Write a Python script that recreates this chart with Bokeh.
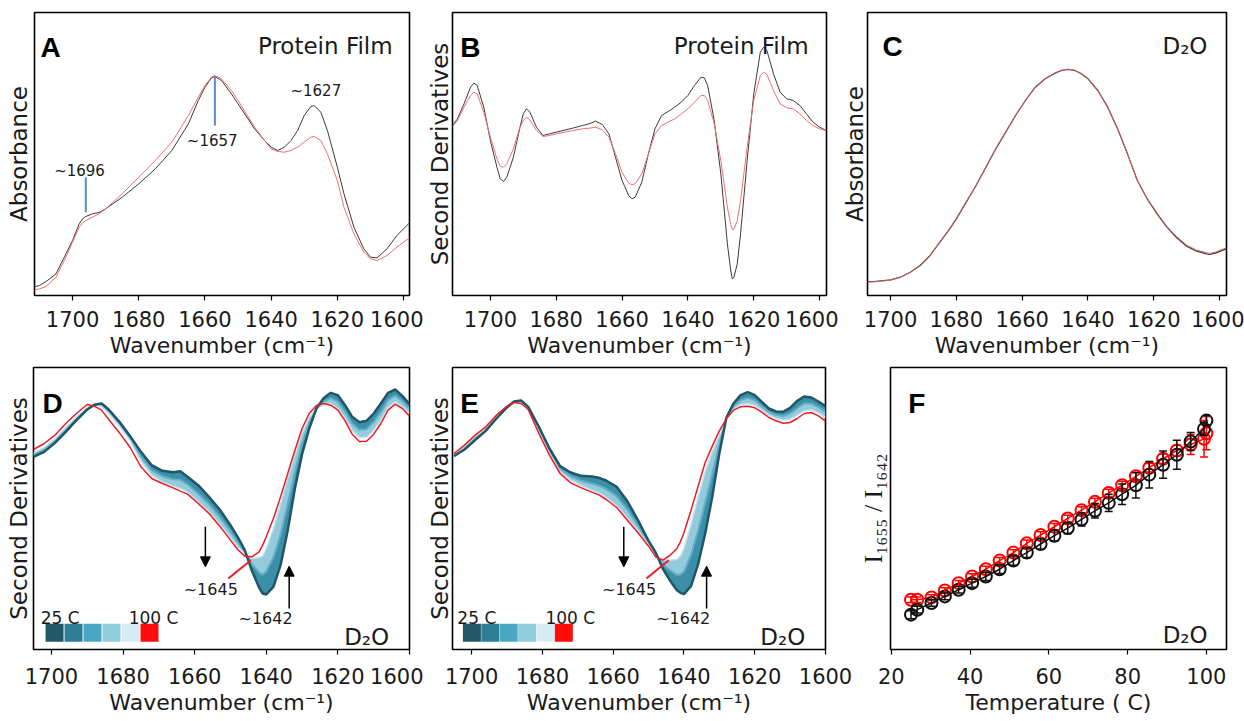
from bokeh.plotting import figure
from bokeh.layouts import row, column
from bokeh.models import (Range1d, FixedTicker, Label, Whisker, TeeHead,
                          Arrow, NormalHead, ColumnDataSource)
from bokeh.embed import file_html
from bokeh.resources import INLINE

SANS = "DejaVu Sans"
BOLD = "Liberation Sans"
SERIF = "'Liberation Serif', 'DejaVu Serif', serif"
INK = "#1a1a1a"

# ---------------- data ----------------
WN_TICKS = [1600, 1620, 1640, 1660, 1680, 1700]
T_TICKS = [20, 40, 60, 80, 100]

# Panel A : absorbance, protein film (a.u.)
wn_a = [1712, 1710, 1708, 1705, 1702, 1700, 1698, 1697, 1696, 1694, 1692, 1690, 1685, 1680, 1675,
        1670, 1665, 1662, 1660, 1658, 1657, 1655, 1652, 1650, 1645, 1642, 1640, 1638, 1636, 1634,
        1632, 1630, 1628, 1627, 1625, 1623, 1620, 1618, 1615, 1612, 1610, 1608, 1605, 1602, 1598]
abs_a_black = [0.025, 0.030, 0.042, 0.065, 0.125, 0.165, 0.215, 0.230, 0.237, 0.245, 0.249, 0.260, 0.295, 0.335, 0.380,
               0.435, 0.515, 0.585, 0.625, 0.653, 0.657, 0.645, 0.605, 0.575, 0.500, 0.465, 0.445, 0.435, 0.445, 0.465,
               0.495, 0.540, 0.567, 0.570, 0.550, 0.495, 0.385, 0.305, 0.205, 0.140, 0.115, 0.113, 0.140, 0.180, 0.220]
abs_a_red = [0.015, 0.020, 0.027, 0.055, 0.115, 0.160, 0.205, 0.218, 0.225, 0.235, 0.245, 0.260, 0.305, 0.355, 0.405,
             0.460, 0.540, 0.595, 0.630, 0.655, 0.660, 0.650, 0.615, 0.585, 0.505, 0.465, 0.440, 0.432, 0.430, 0.435,
             0.445, 0.460, 0.475, 0.477, 0.465, 0.425, 0.345, 0.265, 0.185, 0.130, 0.110, 0.105, 0.120, 0.145, 0.175]
marks_a = [1696, 1657]
marks_a_low = [0.250, 0.510]
marks_a_high = [0.355, 0.657]

# Panel B : negative second derivative, protein film (a.u.)
wn_b = [1711.5, 1710, 1708, 1706, 1705, 1704, 1702, 1700, 1698, 1697, 1696, 1695, 1693, 1691, 1690,
        1689, 1688, 1686, 1684, 1682, 1680, 1675, 1672, 1670, 1668, 1666, 1664, 1662, 1660, 1658,
        1657, 1656, 1654, 1652, 1650, 1648, 1646, 1644, 1642, 1640, 1638, 1636, 1635, 1634, 1632,
        1630, 1628, 1627, 1626.5, 1626, 1625, 1624, 1622, 1620, 1618, 1617, 1616, 1614, 1612, 1610,
        1608, 1606, 1604, 1602, 1600, 1598]
nd2_b_black = [375, 355, 310, 260, 248, 255, 320, 420, 500, 535, 543, 530, 470, 380, 340,
               325, 335, 380, 405, 400, 395, 383, 375, 370, 362, 372, 400, 470, 540, 585,
               595, 590, 545, 460, 385, 345, 333, 320, 305, 285, 255, 230, 232, 255, 360,
               520, 730, 810, 835, 830, 790, 700, 480, 280, 155, 140, 150, 220, 275, 295,
               300, 315, 340, 365, 380, 390]
nd2_b_red = [378, 360, 320, 285, 275, 280, 335, 410, 475, 498, 500, 490, 445, 380, 360,
             350, 358, 390, 408, 405, 400, 390, 385, 383, 380, 388, 410, 460, 515, 548,
             553, 550, 520, 460, 400, 375, 365, 355, 340, 325, 305, 285, 285, 300, 370,
             480, 620, 672, 688, 686, 660, 600, 440, 300, 225, 215, 222, 270, 310, 322,
             325, 340, 360, 375, 385, 390]

# Panel C : absorbance in D2O (a.u.)
wn_c = [1707, 1705, 1700, 1697, 1694, 1691, 1688, 1685, 1682, 1680, 1677, 1674, 1671, 1668, 1665,
        1662, 1659, 1656, 1653, 1650, 1648, 1646, 1644, 1642, 1640, 1637, 1634, 1631, 1628, 1625,
        1622, 1619, 1616, 1613, 1610, 1607, 1604, 1603, 1601, 1598]
abs_c_black = [0.042, 0.042, 0.047, 0.055, 0.070, 0.090, 0.120, 0.160, 0.200, 0.230, 0.280, 0.330, 0.385, 0.440, 0.490,
               0.540, 0.585, 0.625, 0.650, 0.667, 0.675, 0.678, 0.675, 0.665, 0.650, 0.615, 0.565, 0.500, 0.425, 0.345,
               0.290, 0.245, 0.205, 0.173, 0.148, 0.133, 0.125, 0.123, 0.128, 0.140]
abs_c_red = [0.040, 0.041, 0.046, 0.055, 0.070, 0.091, 0.121, 0.161, 0.201, 0.231, 0.281, 0.331, 0.386, 0.441, 0.491,
             0.541, 0.586, 0.626, 0.651, 0.668, 0.676, 0.679, 0.676, 0.666, 0.651, 0.616, 0.566, 0.501, 0.426, 0.346,
             0.291, 0.247, 0.207, 0.176, 0.151, 0.136, 0.128, 0.126, 0.131, 0.143]

# Panels D / E : negative second derivatives vs temperature (a.u.)
wn_de = [1705, 1702, 1699, 1696, 1693, 1690, 1688, 1686, 1684, 1681, 1678, 1675, 1672, 1669, 1666,
         1664, 1662, 1659, 1656, 1653, 1650, 1648, 1646, 1644, 1642, 1641, 1640, 1638, 1636, 1634,
         1632, 1630, 1628, 1626, 1624, 1622, 1620, 1618, 1616, 1614, 1612, 1610, 1608, 1606, 1604,
         1602, 1600]
d_25 = [290, 275, 248, 215, 180, 148, 134, 130, 148, 185, 228, 275, 315, 332, 336,
        333, 350, 375, 410, 448, 495, 530, 570, 632, 682, 700, 703, 680, 615, 510,
        385, 282, 205, 145, 114, 98, 105, 135, 170, 186, 182, 160, 130, 98, 88,
        107, 132]
d_60 = [284, 268, 242, 208, 175, 145, 134, 134, 154, 191, 235, 289, 330, 348, 357,
        359, 372, 400, 432, 470, 513, 545, 575, 613, 637, 644, 634, 592, 523, 432,
        335, 250, 188, 145, 124, 114, 125, 155, 190, 209, 207, 185, 155, 120, 106,
        123, 146]
d_95 = [278, 262, 236, 202, 170, 142, 134, 138, 160, 198, 242, 303, 345, 365, 378,
        385, 395, 425, 455, 492, 532, 560, 580, 595, 592, 588, 565, 505, 432, 355,
        285, 218, 172, 146, 134, 130, 145, 175, 210, 232, 232, 210, 180, 142, 125,
        140, 160]
d_100 = [268, 250, 225, 190, 160, 133, 138, 150, 178, 218, 262, 320, 355, 370, 383,
         393, 402, 430, 460, 498, 540, 568, 588, 590, 575, 555, 530, 475, 410, 340,
         270, 205, 160, 136, 130, 135, 150, 182, 222, 244, 243, 222, 190, 150, 132,
         145, 168]
e_25 = [288, 268, 240, 212, 175, 142, 124, 121, 140, 200, 265, 318, 337, 347, 349,
        353, 361, 380, 423, 480, 542, 577, 625, 660, 690, 698, 702, 678, 612, 520,
        410, 280, 172, 130, 105, 96, 105, 125, 145, 154, 155, 143, 122, 109, 112,
        124, 138]
e_60 = [285, 264, 234, 209, 172, 140, 125, 124, 142, 206, 272, 326, 348, 362, 370,
        376, 386, 408, 448, 496, 547, 580, 612, 630, 644, 643, 634, 585, 512, 428,
        342, 252, 175, 138, 120, 113, 120, 138, 155, 164, 168, 160, 144, 130, 130,
        141, 155]
e_95 = [282, 260, 228, 206, 170, 137, 126, 126, 145, 212, 278, 335, 360, 376, 390,
        398, 412, 436, 474, 512, 552, 583, 598, 600, 598, 588, 565, 492, 412, 335,
        275, 225, 178, 147, 134, 130, 136, 150, 165, 175, 180, 177, 165, 152, 149,
        158, 172]
e_100 = [280, 255, 225, 200, 165, 138, 127, 130, 148, 220, 285, 340, 368, 383, 396,
         404, 418, 442, 480, 518, 558, 590, 600, 586, 565, 545, 518, 450, 378, 307,
         258, 212, 175, 150, 140, 138, 143, 156, 172, 182, 189, 187, 175, 160, 157,
         167, 183]
legend_colors = ["#235868", "#2f7e97", "#48a7c2", "#91ccdd", "#d6ecf3", "#ff0d0d"]

# Panel F : I1655 / I1642 ratio vs temperature
temp_f = [25, 26.6, 30.2, 33.6, 37.1, 40.5, 44.0, 47.5, 51.0, 54.4, 57.9, 61.4,
          64.8, 68.3, 71.7, 75.2, 78.6, 82.1, 85.5, 89.0, 92.5, 96.0, 99.4, 100.0]
ratio_black = [0.705, 0.720, 0.740, 0.760, 0.780, 0.800, 0.820, 0.842, 0.868, 0.892, 0.918, 0.943,
               0.966, 0.992, 1.018, 1.042, 1.068, 1.095, 1.127, 1.157, 1.187, 1.227, 1.265, 1.290]
err_black = [0.012, 0.010, 0.010, 0.010, 0.010, 0.012, 0.012, 0.013, 0.014, 0.015, 0.016, 0.017,
             0.017, 0.020, 0.022, 0.026, 0.031, 0.038, 0.040, 0.041, 0.044, 0.027, 0.020, 0.015]
ratio_red = [0.750, 0.750, 0.757, 0.778, 0.800, 0.820, 0.842, 0.868, 0.892, 0.920, 0.945, 0.970,
             0.995, 1.020, 1.045, 1.072, 1.095, 1.122, 1.148, 1.175, 1.200, 1.218, 1.235, 1.252]
err_red = [0.008, 0.008, 0.008, 0.008, 0.008, 0.008, 0.009, 0.009, 0.009, 0.010, 0.010, 0.010,
           0.010, 0.010, 0.011, 0.011, 0.012, 0.012, 0.013, 0.014, 0.016, 0.030, 0.055, 0.050]

XLAB = "Wavenumber (cm\u207b\u00b9)"
D2O = "D\u2082O"


# ---------------- helpers ----------------
def make_fig(w, h, left, right, top, bottom, xr, yr, xticks, xlabel, ylabel,
             yfont=SANS, ysize="23px", ystand=2, tick_stand=10, lab_stand=3):
    p = figure(width=w, height=h, x_range=xr, y_range=yr, output_backend="svg",
               toolbar_location=None, min_border_left=left, min_border_right=right,
               min_border_top=top, min_border_bottom=bottom)
    p.grid.visible = False
    p.background_fill_color = "white"
    p.border_fill_color = "white"
    p.outline_line_color = "black"
    p.outline_line_width = 1.6
    xa = p.xaxis[0]
    xa.ticker = FixedTicker(ticks=xticks)
    xa.axis_line_color = None
    xa.major_tick_line_color = "black"
    xa.major_tick_line_width = 1.2
    xa.major_tick_out = 5
    xa.major_tick_in = 0
    xa.minor_tick_line_color = None
    xa.major_label_text_font = SANS
    xa.major_label_text_font_size = "21px"
    xa.major_label_text_color = INK
    xa.major_label_standoff = tick_stand
    xa.axis_label = xlabel
    xa.axis_label_text_font = SANS
    xa.axis_label_text_font_size = "22px"
    xa.axis_label_text_font_style = "normal"
    xa.axis_label_text_color = INK
    xa.axis_label_standoff = lab_stand
    ya = p.yaxis[0]
    ya.ticker = FixedTicker(ticks=[])
    ya.axis_line_color = None
    ya.major_tick_line_color = None
    ya.minor_tick_line_color = None
    ya.major_tick_out = 0
    ya.major_label_standoff = 0
    ya.axis_label = ylabel
    ya.axis_label_text_font = yfont
    ya.axis_label_text_font_size = ysize
    ya.axis_label_text_font_style = "normal"
    ya.axis_label_text_color = INK
    ya.axis_label_standoff = ystand
    return p


def frame_xy(p, fx, fy):
    """fraction of frame (fx from left, fy from top) -> data coordinates"""
    xs, xe = p.x_range.start, p.x_range.end
    ys, ye = p.y_range.start, p.y_range.end
    return xs + fx * (xe - xs), ye + fy * (ys - ye)


def put(p, fx, fy, text, size, font=SANS, style="normal", align="left", color=INK):
    x, y = frame_xy(p, fx, fy)
    p.add_layout(Label(x=x, y=y, text=text, text_font=font, text_font_size=size,
                       text_font_style=style, text_align=align, text_baseline="alphabetic",
                       text_color=color))


def note(p, x, y, text, size="15px"):
    p.add_layout(Label(x=x, y=y, text=text, text_font=SANS, text_font_size=size,
                       text_align="center", text_baseline="middle", text_color=INK))


TOP_H, BOT_H = 360, 360

# ---------------- Panel A ----------------
pA = make_fig(423, TOP_H, 34, 14, 12, 65, Range1d(1711.5, 1598.2), Range1d(0, 0.849),
              WN_TICKS, XLAB, "Absorbance", ystand=3)
pA.line(wn_a, abs_a_black, line_color="#3a3a3a", line_width=1)
pA.line(wn_a, abs_a_red, line_color="#f07070", line_width=1)
pA.segment(x0=marks_a, y0=marks_a_low, x1=marks_a, y1=marks_a_high, line_color="#5b8bc5", line_width=2)
note(pA, 1697.9, 0.375, "~1696")
note(pA, 1657.8, 0.465, "~1657")
note(pA, 1626.5, 0.613, "~1627")
put(pA, 0.016, 0.124, "A", "28px", font=BOLD, style="bold", color="black")
put(pA, 0.955, 0.117, "Protein Film", "23px", align="right")

# ---------------- Panel B ----------------
pB = make_fig(415, TOP_H, 27, 12, 12, 65, Range1d(1711.5, 1597.9), Range1d(885, 36),
              WN_TICKS, XLAB, "Second Derivatives", ystand=0)
pB.line(wn_b, nd2_b_black, line_color="#3a3a3a", line_width=1)
pB.line(wn_b, nd2_b_red, line_color="#f07070", line_width=1)
put(pB, 0.021, 0.124, "B", "28px", font=BOLD, style="bold", color="black")
put(pB, 0.952, 0.117, "Protein Film", "23px", align="right")

# ---------------- Panel C ----------------
pC = make_fig(406, TOP_H, 27, 18, 12, 65, Range1d(1707, 1597.9), Range1d(0, 0.849),
              WN_TICKS, XLAB, "Absorbance", ystand=0)
pC.line(wn_c, abs_c_black, line_color="#3a3a3a", line_width=1.2)
pC.line(wn_c, abs_c_red, line_color="#d46060", line_width=1)
put(pC, 0.042, 0.12, "C", "28px", font=BOLD, style="bold", color="black")
put(pC, 0.947, 0.117, D2O, "23px", align="right")


# ---------------- Panels D / E ----------------
def band_panel(w, left, right, ystand, xr, c25, c60, c95, c100, letter, lfx,
               sw_fx0, sw_step, t25_fx, t100_fx):
    p = make_fig(w, BOT_H, left, right, 7, 71, xr, Range1d(868, 22),
                 WN_TICKS, XLAB, "Second Derivatives", ystand=ystand, tick_stand=13, lab_stand=3)
    p.varea(x=wn_de, y1=c25, y2=c60, fill_color="#3c8fa8")
    p.varea(x=wn_de, y1=c60, y2=c95, fill_color="#93cbdc")
    p.line(wn_de, c60, line_color="#62adc4", line_width=2)
    p.line(wn_de, c95, line_color="#c4e2eb", line_width=1.5)
    p.line(wn_de, c25, line_color="#1f5767", line_width=2.5)
    p.line(wn_de, c100, line_color="#ee1c25", line_width=1.5)
    # annotations
    p.add_layout(Arrow(end=NormalHead(size=10, fill_color="black", line_color="black"),
                       x_start=1657, y_start=500, x_end=1657, y_end=620,
                       line_color="black", line_width=1.5))
    p.add_layout(Arrow(end=NormalHead(size=10, fill_color="black", line_color="black"),
                       x_start=1633.6, y_start=745, x_end=1633.6, y_end=618,
                       line_color="black", line_width=1.5))
    p.segment(x0=[1650.6], y0=[655], x1=[1644.3], y1=[600], line_color="#ee1c25", line_width=2)
    note(p, 1655.5, 688, "~1645", "16px")
    note(p, 1640.2, 775, "~1642", "16px")
    # colour legend
    xs = []
    ys = []
    for i in range(6):
        x, y = frame_xy(p, sw_fx0 + i * sw_step, 0.941)
        xs.append(x)
        ys.append(y)
    p.scatter(xs, ys, marker="square", size=18, fill_color=legend_colors, line_color=None)
    put(p, t25_fx, 0.887, "25 C", "17px")
    put(p, t100_fx, 0.887, "100 C", "17px")
    put(p, lfx, 0.128, letter, "28px", font=BOLD, style="bold", color="black")
    put(p, 0.946, 0.954, D2O, "23px", align="right")
    return p


pD = band_panel(423, 33, 14, 2, Range1d(1705, 1600), d_25, d_60, d_95, d_100, "D", 0.024,
                0.056, 0.0505, 0.019, 0.253)
pE = band_panel(432, 27, 30, 0, Range1d(1705.4, 1600), e_25, e_60, e_95, e_100, "E", 0.021,
                0.052, 0.0493, 0.013, 0.249)

# ---------------- Panel F ----------------
pF = make_fig(389, BOT_H, 33, 18, 7, 71, Range1d(19.8, 105.1), Range1d(0.6, 1.45),
              T_TICKS, "Temperature ( C)", "I\u2081\u2086\u2085\u2085 / I\u2081\u2086\u2084\u2082",
              yfont=SERIF, ysize="26px", ystand=3, tick_stand=13, lab_stand=3)
src_r = ColumnDataSource(dict(t=temp_f, v=ratio_red,
                              lo=[v - e for v, e in zip(ratio_red, err_red)],
                              hi=[v + e for v, e in zip(ratio_red, err_red)]))
src_k = ColumnDataSource(dict(t=temp_f, v=ratio_black,
                              lo=[v - e for v, e in zip(ratio_black, err_black)],
                              hi=[v + e for v, e in zip(ratio_black, err_black)]))
for src, col in ((src_r, "#ff0000"), (src_k, "#111111")):
    pF.line("t", "v", source=src, line_color=col, line_width=1.5)
    pF.add_layout(Whisker(source=src, base="t", upper="hi", lower="lo", dimension="height",
                          line_color=col, line_width=1.5, level="glyph",
                          upper_head=TeeHead(size=8, line_color=col, line_width=1.5),
                          lower_head=TeeHead(size=8, line_color=col, line_width=1.5)))
    pF.scatter("t", "v", source=src, marker="circle", size=12, fill_color=None,
               line_color=col, line_width=2)
put(pF, 0.053, 0.127, "F", "28px", font=BOLD, style="bold", color="black")
put(pF, 0.944, 0.95, D2O, "23px", align="right")

layout = column(row(pA, pB, pC), row(pD, pE, pF))
open("out.html", "w").write(file_html(layout, INLINE))
